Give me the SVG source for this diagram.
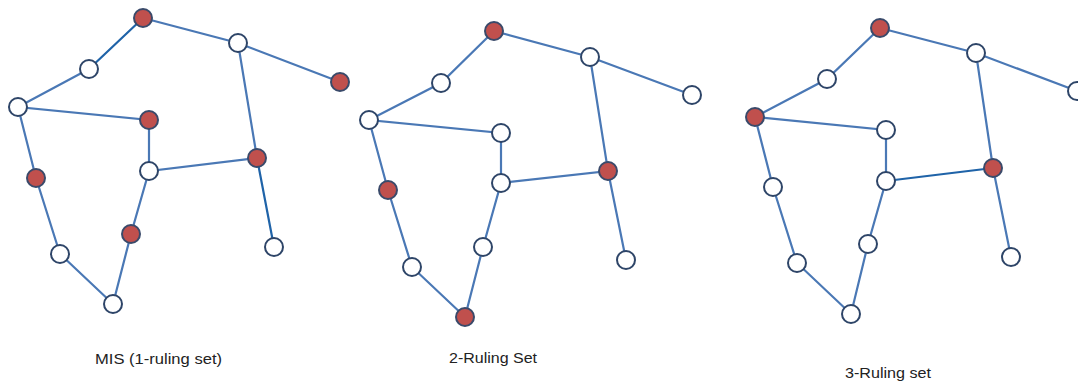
<svg xmlns="http://www.w3.org/2000/svg" width="1078" height="381" viewBox="0 0 1078 381">
<style>
.e{stroke:#4a78b5;stroke-width:2.2;fill:none}
.h{stroke:#1f63a8;stroke-width:2.2;fill:none}
.w{fill:#ffffff;stroke:#2e4568;stroke-width:2}
.r{fill:#c0504d;stroke:#3a4a6a;stroke-width:2}
.t{font-family:"Liberation Sans",Arial,sans-serif;font-size:14px;fill:#222}
</style>
<rect width="1078" height="381" fill="#ffffff"/>
<g id="connectors">
<path class="e" d="M143,18L238,43L340,82M89,69L18,107L149,120L149,171L257,158L238,43M18,107L36,178L60,254L113,304L131,234L149,171"/>
<path class="h" d="M143,18L89,69M257,158L274,247"/>
<path class="e" d="M494,31L590,57L692,95M494,31L441,83L369,120L501,133L501,183L608,171L590,57M608,171L626,260M369,120L388,190L412,267L465,317L483,247L501,183"/>
<path class="e" d="M880,28L976,53L1077,91M880,28L827,79L755,117L886,130L886,181M993,168L976,53M993,168L1011,257M755,117L773,187L797,263L851,314L868,244L886,181"/>
<path class="h" d="M886,181L993,168"/>
</g>
<g id="graph1">
<circle id="g1A" class="r" cx="143" cy="18" r="9"/>
<circle id="g1B" class="w" cx="238" cy="43" r="9"/>
<circle id="g1C" class="r" cx="340" cy="82" r="9"/>
<circle id="g1D" class="w" cx="89" cy="69" r="9"/>
<circle id="g1E" class="w" cx="18" cy="107" r="9"/>
<circle id="g1F" class="r" cx="149" cy="120" r="9"/>
<circle id="g1G" class="w" cx="149" cy="171" r="9"/>
<circle id="g1H" class="r" cx="257" cy="158" r="9"/>
<circle id="g1I" class="r" cx="36" cy="178" r="9"/>
<circle id="g1J" class="r" cx="131" cy="234" r="9"/>
<circle id="g1K" class="w" cx="274" cy="247" r="9"/>
<circle id="g1L" class="w" cx="60" cy="254" r="9"/>
<circle id="g1M" class="w" cx="113" cy="304" r="9"/>
</g>
<g id="graph2">
<circle id="g2A" class="r" cx="494" cy="31" r="9"/>
<circle id="g2B" class="w" cx="590" cy="57" r="9"/>
<circle id="g2C" class="w" cx="692" cy="95" r="9"/>
<circle id="g2D" class="w" cx="441" cy="83" r="9"/>
<circle id="g2E" class="w" cx="369" cy="120" r="9"/>
<circle id="g2F" class="w" cx="501" cy="133" r="9"/>
<circle id="g2G" class="w" cx="501" cy="183" r="9"/>
<circle id="g2H" class="r" cx="608" cy="171" r="9"/>
<circle id="g2I" class="r" cx="388" cy="190" r="9"/>
<circle id="g2J" class="w" cx="483" cy="247" r="9"/>
<circle id="g2K" class="w" cx="626" cy="260" r="9"/>
<circle id="g2L" class="w" cx="412" cy="267" r="9"/>
<circle id="g2M" class="r" cx="465" cy="317" r="9"/>
</g>
<g id="graph3">
<circle id="g3A" class="r" cx="880" cy="28" r="9"/>
<circle id="g3B" class="w" cx="976" cy="53" r="9"/>
<circle id="g3C" class="w" cx="1077" cy="91" r="9"/>
<circle id="g3D" class="w" cx="827" cy="79" r="9"/>
<circle id="g3E" class="r" cx="755" cy="117" r="9"/>
<circle id="g3F" class="w" cx="886" cy="130" r="9"/>
<circle id="g3G" class="w" cx="886" cy="181" r="9"/>
<circle id="g3H" class="r" cx="993" cy="168" r="9"/>
<circle id="g3I" class="w" cx="773" cy="187" r="9"/>
<circle id="g3J" class="w" cx="868" cy="244" r="9"/>
<circle id="g3K" class="w" cx="1011" cy="257" r="9"/>
<circle id="g3L" class="w" cx="797" cy="263" r="9"/>
<circle id="g3M" class="w" cx="851" cy="314" r="9"/>
</g>
<g id="labels">
<text class="t" x="95" y="364" textLength="127" lengthAdjust="spacingAndGlyphs">MIS (1-ruling set)</text>
<text class="t" x="449" y="363" textLength="88" lengthAdjust="spacingAndGlyphs">2-Ruling Set</text>
<text class="t" x="845" y="378" textLength="86" lengthAdjust="spacingAndGlyphs">3-Ruling set</text>
</g>
</svg>
